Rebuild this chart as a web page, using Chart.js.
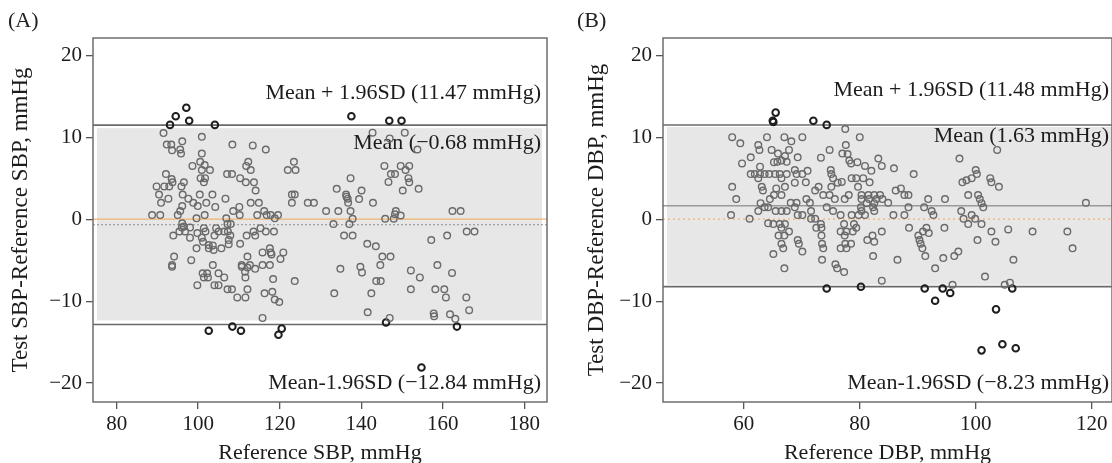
<!DOCTYPE html>
<html><head><meta charset="utf-8">
<script src="https://cdn.jsdelivr.net/npm/chart.js@4"></script>
<style>
html,body{margin:0;padding:0;background:#fff;width:1112px;height:463px;overflow:hidden}
.panel{position:absolute;top:0;width:556px;height:463px}
.lbl{position:absolute;top:7px;font:22px "Liberation Serif",serif;color:#222}
</style></head><body>
<div class="panel" style="left:0"><canvas id="cA"></canvas></div>
<div class="panel" style="left:556px"><canvas id="cB"></canvas></div>
<div class="lbl" style="left:8px">(A)</div>
<div class="lbl" style="left:577px">(B)</div>
<script>
// ---------- data ----------
const diffTicks = [-20, -10, 0, 10, 20];
const sbpTicks = [80, 100, 120, 140, 160, 180];
const dbpTicks = [60, 80, 100, 120];

const sbpMean = -0.68, sbpUpper = 11.47, sbpLower = -12.84;
const dbpMean = 1.63, dbpUpper = 11.48, dbpLower = -8.23;

// SBP points within limits [reference SBP, difference]
const sbpInside = [
[91.5,10.5],[100.9,10.05],[92.3,9.1],[93.4,9.1],[93.6,8.4],[96.1,9.5],[95.6,8.5],[95.8,8.0],[100.9,8.0],[108.4,9.1],
[113.4,9.0],[116.6,8.5],[100.5,7.0],[112.3,7.0],[98.6,6.5],[101.6,6.6],[100.9,6.0],[102.9,6.0],[111.8,6.5],[112.9,6.0],
[123.5,7.0],[122.0,6.0],[123.9,6.0],[92.1,5.5],[93.5,4.9],[100.6,5.0],[101.7,5.0],[107.1,5.5],[108.3,5.5],[110.3,5.0],
[111.7,4.5],[113.7,4.5],[89.8,4.0],[91.7,4.0],[92.9,4.0],[93.7,4.5],[96.5,4.5],[95.9,4.0],[101.4,4.5],[114.1,3.5],
[90.4,3.0],[90.9,2.0],[92.7,2.5],[96.2,3.0],[100.4,3.0],[103.5,3.0],[97.6,2.5],[98.8,2.0],[99.9,1.6],[102.0,2.0],
[106.7,2.5],[104.2,1.5],[112.9,2.0],[114.9,2.0],[110.1,1.5],[108.6,1.0],[123.0,3.0],[123.7,3.0],[123.0,2.0],[126.9,2.0],
[128.4,2.0],[88.7,0.5],[90.7,0.5],[95.0,0.5],[96.1,1.6],[95.6,1.0],[101.6,0.5],[99.6,0.1],[106.9,0.1],[110.2,0.5],
[114.5,0.5],[116.2,1.0],[116.8,0.5],[117.8,0.5],[119.6,0.5],[118.8,0.1],[96.1,-0.5],[96.5,-0.9],[107.2,-0.6],[108.0,-0.6],
[96.0,-1.0],[98.0,-1.0],[96.8,-1.5],[95.4,-1.5],[99.8,-1.7],[101.4,-1.1],[101.8,-1.5],[104.4,-1.1],[105.0,-1.5],[106.4,-1.5],
[107.3,-1.5],[93.9,-2.0],[98.0,-2.25],[100.9,-2.25],[104.0,-2.0],[107.9,-2.0],[111.9,-2.0],[114.0,-2.0],[113.6,-1.5],[115.3,-1.1],
[116.6,-1.5],[118.6,-1.5],[99.6,-3.55],[101.2,-2.75],[102.6,-3.15],[102.6,-3.55],[103.6,-3.2],[103.8,-3.75],[105.7,-3.55],[107.5,-2.55],
[107.5,-3.05],[110.3,-3.0],[94.1,-4.55],[93.6,-5.6],[93.6,-5.8],[98.3,-5.0],[103.6,-5.6],[112.1,-4.55],[110.7,-5.6],[110.7,-5.8],
[112.1,-5.9],[112.7,-5.6],[114.0,-6.05],[111.5,-6.4],[111.6,-7.1],[115.8,-4.05],[117.6,-3.55],[117.8,-4.05],[118.0,-4.3],[120.9,-4.05],
[120.2,-4.85],[115.8,-5.6],[117.6,-5.6],[101.1,-6.6],[102.2,-6.6],[101.4,-7.1],[102.4,-7.1],[105.0,-6.6],[106.4,-7.1],[99.8,-8.05],
[104.0,-8.05],[105.0,-8.05],[107.2,-8.55],[108.3,-8.55],[112.1,-8.55],[109.6,-9.55],[111.6,-9.55],[118.4,-7.3],[123.7,-7.55],[116.3,-9.05],
[118.2,-8.85],[118.8,-9.8],[119.9,-10.1],[115.8,-12.05],
[142.8,10.55],[147.0,9.85],[150.7,10.55],[153.8,8.5],[145.7,6.5],[149.7,6.5],[151.8,6.5],[147.3,5.5],[148.3,5.5],[150.9,6.0],
[151.6,5.0],[146.7,4.55],[151.8,4.5],[137.4,5.0],[134.0,3.7],[140.1,3.5],[150.2,3.5],[154.1,3.7],[136.3,3.0],[136.4,2.75],
[139.5,2.45],[136.7,2.5],[136.8,2.0],[142.9,2.0],[131.4,1.0],[134.4,1.0],[137.4,1.0],[148.5,1.0],[149.7,0.45],[148.3,0.6],
[137.9,0.05],[145.9,0.05],[148.0,0.05],[162.4,1.0],[164.4,1.0],[133.2,-0.6],[137.1,-0.6],
[135.8,-2.0],[137.9,-2.0],[141.5,-3.0],[143.6,-3.3],[145.2,-4.55],[147.2,-4.55],[134.9,-6.05],[139.8,-5.8],[140.2,-6.5],[144.7,-5.6],
[143.7,-7.55],[144.8,-7.55],[133.4,-9.05],[142.5,-9.05],[141.6,-11.35],[147.0,-12.05],[152.2,-6.25],[154.4,-7.1],[152.2,-8.55],[157.2,-2.55],
[161.1,-2.0],[165.9,-1.5],[167.8,-1.5],[158.7,-5.6],[162.3,-6.55],[158.2,-8.55],[160.4,-8.55],[160.8,-9.55],[165.8,-9.55],[166.5,-11.1],
[157.8,-11.5],[157.9,-11.85],[161.8,-11.6],[163.1,-12.15]
];
// SBP points on/outside the limits
const sbpOutside = [
[93.1,11.5],[94.5,12.55],[97.1,13.6],[97.8,12.0],[104.1,11.5],[137.6,12.55],[146.9,12.0],[149.9,12.0],
[102.6,-13.6],[108.4,-13.1],[110.5,-13.6],[120.5,-13.35],[119.7,-14.1],[146.1,-12.6],[163.5,-13.1],[154.8,-18.1]
];

// DBP points within limits [reference DBP, difference]
const dbpInside = [
[77.5,11.0],[58.0,10.0],[59.4,9.25],[64.0,10.0],[67.0,10.0],[68.2,9.5],[70.1,10.0],[80.0,10.0],[62.5,9.05],[62.7,8.45],
[64.8,8.45],[65.9,8.0],[67.8,8.45],[77.6,9.05],[74.8,8.45],[77.0,8.0],[77.9,7.95],[103.7,8.45],[59.7,6.8],[61.2,7.55],
[65.2,6.95],[65.8,7.0],[66.5,7.15],[67.4,7.0],[69.3,7.55],[73.3,7.5],[67.1,7.7],[78.2,7.15],[78.5,6.8],[79.6,6.95],
[80.9,6.5],[82.0,5.9],[83.2,7.4],[83.8,6.5],[85.9,6.2],[89.3,5.5],[97.2,7.4],[62.8,6.4],[61.2,5.5],[61.9,5.5],
[62.8,5.5],[63.6,5.5],[64.4,5.5],[65.4,5.5],[66.2,5.5],[67.4,5.5],[62.5,5.0],[66.5,5.0],[68.8,6.0],[69.1,5.5],
[70.1,5.5],[71.0,5.9],[75.0,6.0],[75.1,5.5],[75.4,5.0],[78.6,5.0],[79.4,5.0],[80.6,5.0],[81.7,4.5],[100.0,6.0],
[100.2,5.5],[99.3,5.0],[98.4,4.75],[97.7,4.5],[102.5,5.0],[102.7,4.5],[104.0,3.95],[58.0,3.95],[63.1,3.95],[63.3,3.5],
[65.6,3.75],[67.1,3.95],[68.8,4.45],[70.7,4.5],[72.9,3.95],[72.3,3.5],[75.1,3.95],[76.2,4.45],[76.9,4.55],[79.7,3.95],
[86.2,3.5],[87.1,3.75],[58.7,2.45],[64.5,2.45],[65.2,2.95],[66.5,2.95],[68.1,2.0],[69.1,2.0],[70.8,2.45],[71.4,2.0],
[73.7,2.95],[74.8,2.95],[75.7,2.45],[77.4,2.45],[78.1,2.95],[80.3,2.95],[81.5,2.95],[82.5,2.95],[83.5,2.95],[80.3,2.45],
[81.6,2.45],[82.9,2.45],[83.9,2.45],[81.2,1.95],[82.5,1.95],[84.9,2.0],[87.7,2.95],[88.4,2.95],[91.8,2.45],[94.7,2.45],
[98.7,2.95],[100.4,2.95],[100.7,2.45],[101.0,1.95],[101.3,1.45],[62.9,1.95],[62.5,1.0],[63.6,1.45],[64.2,1.45],[65.5,1.0],
[66.5,1.0],[67.4,1.0],[68.8,1.45],[71.6,1.0],[74.3,1.45],[75.4,1.0],[80.2,1.45],[80.3,1.0],[82.3,1.45],[82.5,1.0],
[88.4,1.45],[91.1,1.45],[92.4,1.0],[92.7,0.5],[97.5,1.0],[99.3,0.5],[119.0,2.0],[57.8,0.5],[61.0,0.05],[69.3,0.5],
[70.1,0.5],[71.6,0.05],[72.3,0.05],[76.7,0.5],[78.6,0.5],[79.8,0.5],[80.9,0.5],[85.8,0.5],[87.7,0.5],[97.9,0.05],
[99.9,0.05],[64.2,-0.5],[65.1,-0.6],[66.2,-0.6],[67.1,-0.6],[73.3,-0.6],[77.3,-0.6],[79.0,-0.6],[98.7,-0.6],[101.0,-0.6],
[66.5,-1.05],[72.5,-1.05],[73.4,-1.05],[88.5,-1.05],[91.5,-1.05],[94.6,-1.05],[67.8,-1.5],[76.7,-1.5],[77.7,-1.5],[78.8,-1.5],
[79.4,-1.05],[83.8,-1.5],[90.9,-1.5],[91.9,-1.7],[102.7,-1.5],[105.6,-1.25],[109.8,-1.5],[115.8,-1.5],[66.0,-2.0],[67.0,-2.0],
[69.3,-2.55],[69.5,-3.0],[73.4,-2.0],[77.4,-2.0],[82.2,-2.0],[81.3,-2.55],[82.5,-2.75],[90.1,-2.0],[90.3,-2.55],[90.5,-3.0],
[90.8,-3.55],[66.5,-3.0],[66.8,-3.55],[70.1,-3.95],[73.5,-3.0],[73.7,-3.55],[76.7,-3.55],[77.5,-3.0],[77.7,-3.55],[78.5,-3.0],
[100.3,-2.55],[103.4,-2.75],[116.7,-3.55],[65.1,-4.25],[73.5,-4.95],[75.8,-5.5],[76.1,-6.0],[77.3,-6.45],[82.3,-4.5],[86.5,-4.95],
[91.3,-4.5],[94.4,-4.75],[96.3,-4.5],[97.0,-3.95],[106.5,-4.95],[67.0,-6.0],[93.0,-6.0],[83.8,-7.5],[101.6,-7.0],[105.0,-8.0],
[105.9,-7.75],[96.0,-8.0]
];
// DBP points on/outside the limits
const dbpOutside = [
[65.5,13.0],[65.0,12.0],[65.1,11.85],[72.0,12.0],[74.3,11.5],
[74.3,-8.45],[80.2,-8.25],[91.2,-8.45],[94.3,-8.45],[95.6,-9.0],[93.0,-9.95],[106.3,-8.45],[103.5,-11.0],
[101.0,-16.0],[104.6,-15.25],[106.9,-15.75]
];

// ---------- drawing ----------
const SERIF = '"Liberation Serif", "Times New Roman", serif';
const TXT = '#1c1c1c';

const baPlugin = {
  id: 'baPlot',
  beforeDatasetsDraw(chart, args, o) {
    const {ctx, chartArea: a, scales: {x, y}} = chart;
    const yU = y.getPixelForValue(o.upper), yL = y.getPixelForValue(o.lower);
    const yM = y.getPixelForValue(o.mean), y0 = y.getPixelForValue(0);
    ctx.save();
    ctx.beginPath(); ctx.rect(a.left, a.top, a.width, a.height); ctx.clip();
    ctx.fillStyle = '#e7e7e7';
    const fx = a.left + o.insetL, fy = yU + o.insetT;
    ctx.fillRect(fx, fy, (a.right - o.insetR) - fx, (yL - o.insetB) - fy);
    const hline = (py, color, w, dash) => {
      ctx.beginPath(); ctx.setLineDash(dash || []); ctx.strokeStyle = color; ctx.lineWidth = w;
      ctx.moveTo(a.left, py); ctx.lineTo(a.right, py); ctx.stroke();
    };
    o.lines(hline, {yU, yL, yM, y0});
    ctx.restore();
    ctx.save();
    ctx.font = '22px ' + SERIF; ctx.fillStyle = TXT; ctx.textAlign = 'right'; ctx.textBaseline = 'middle';
    o.labels.forEach(l => ctx.fillText(l.text, a.right - o.textPad, y.getPixelForValue(l.at)));
    ctx.restore();
  },
  afterDraw(chart) {
    const {ctx, chartArea: a} = chart;
    ctx.save(); ctx.strokeStyle = '#6e6e6e'; ctx.lineWidth = 1.5;
    ctx.strokeRect(a.left, a.top, a.width, a.height); ctx.restore();
  }
};

function pts(arr) { return arr.map(([x, y]) => ({x, y})); }
const minus = v => String(v).replace('-', '\u2212');

function makeChart(id, cfg) {
  return new Chart(document.getElementById(id), {
    type: 'scatter',
    data: { datasets: [
      { data: pts(cfg.inside), pointRadius: 3.3, pointBorderWidth: 1.4, borderColor: '#6a6a6a', backgroundColor: 'rgba(0,0,0,0)', pointBackgroundColor: 'rgba(0,0,0,0)' },
      { data: pts(cfg.outside), pointRadius: 3.3, pointBorderWidth: 2, borderColor: '#1e1e1e', backgroundColor: 'rgba(0,0,0,0)', pointBackgroundColor: 'rgba(0,0,0,0)' }
    ]},
    options: {
      responsive: true, maintainAspectRatio: false, animation: false,
      layout: { padding: cfg.padding, autoPadding: false },
      plugins: { legend: { display: false }, tooltip: { enabled: false }, baPlot: cfg.plot },
      scales: {
        x: {
          type: 'linear', min: cfg.xMin, max: cfg.xMax,
          afterBuildTicks: s => { s.ticks = cfg.xTicks.map(v => ({value: v})); },
          afterFit: s => { s.height = 61; s.paddingLeft = 0; s.paddingRight = 0; },
          ticks: { font: { family: SERIF, size: 21 }, color: TXT, padding: 3, maxRotation: 0, autoSkip: false },
          grid: { display: true, drawOnChartArea: false, tickLength: 7, color: '#555', lineWidth: 1.3 },
          border: { display: false },
          title: { display: true, text: cfg.xTitle, font: { family: SERIF, size: 22 }, color: TXT, padding: { top: 0, bottom: -3 } }
        },
        y: {
          type: 'linear', min: -22.3, max: 22.1,
          afterBuildTicks: s => { s.ticks = diffTicks.map(v => ({value: v})); },
          afterFit: s => { s.width = cfg.yWidth; s.paddingTop = 0; s.paddingBottom = 0; },
          ticks: { font: { family: SERIF, size: 21 }, color: TXT, padding: 4, callback: v => minus(v) },
          grid: { display: true, drawOnChartArea: false, tickLength: 7, color: '#555', lineWidth: 1.3 },
          border: { display: false },
          title: { display: true, text: cfg.yTitle, font: { family: SERIF, size: 23 }, color: TXT, padding: { top: 7, bottom: 0 } }
        }
      }
    },
    plugins: [baPlugin]
  });
}

makeChart('cA', {
  inside: sbpInside, outside: sbpOutside,
  xMin: 74.2, xMax: 185.6, xTicks: sbpTicks, yWidth: 93,
  padding: { left: 0, top: 38, right: 9, bottom: 0 },
  xTitle: 'Reference SBP, mmHg', yTitle: 'Test SBP-Reference SBP, mmHg',
  plot: {
    upper: sbpUpper, lower: sbpLower, mean: sbpMean,
    insetL: 4, insetR: 5, insetT: 3, insetB: 4, textPad: 6,
    lines: (h, p) => {
      h(p.y0, '#f0b46e', 1.3);
      h(p.yM, '#8c8c8c', 1, [2, 2]);
      h(p.yU, '#6a6a6a', 1.6);
      h(p.yL, '#6a6a6a', 1.6);
    },
    labels: [
      { text: 'Mean + 1.96SD (11.47 mmHg)', at: 15.4 },
      { text: 'Mean (\u22120.68 mmHg)', at: 9.3 },
      { text: 'Mean-1.96SD (\u221212.84 mmHg)', at: -20 }
    ]
  }
});

makeChart('cB', {
  inside: dbpInside, outside: dbpOutside,
  xMin: 46.07, xMax: 123.5, xTicks: dbpTicks, yWidth: 87,
  padding: { left: 20, top: 38, right: 0, bottom: 0 },
  xTitle: 'Reference DBP, mmHg', yTitle: 'Test DBP-Reference DBP, mmHg',
  plot: {
    upper: dbpUpper, lower: dbpLower, mean: dbpMean,
    insetL: 4, insetR: 0, insetT: 2, insetB: 2, textPad: 3,
    lines: (h, p) => {
      h(p.y0, '#f0b46e', 1.2, [2, 3]);
      h(p.yM, '#9a9a9a', 1.4);
      h(p.yU, '#6a6a6a', 1.6);
      h(p.yL, '#6a6a6a', 1.6);
    },
    labels: [
      { text: 'Mean + 1.96SD (11.48 mmHg)', at: 15.7 },
      { text: 'Mean (1.63 mmHg)', at: 10.1 },
      { text: 'Mean-1.96SD (\u22128.23 mmHg)', at: -20 }
    ]
  }
});
</script>
</body></html>
